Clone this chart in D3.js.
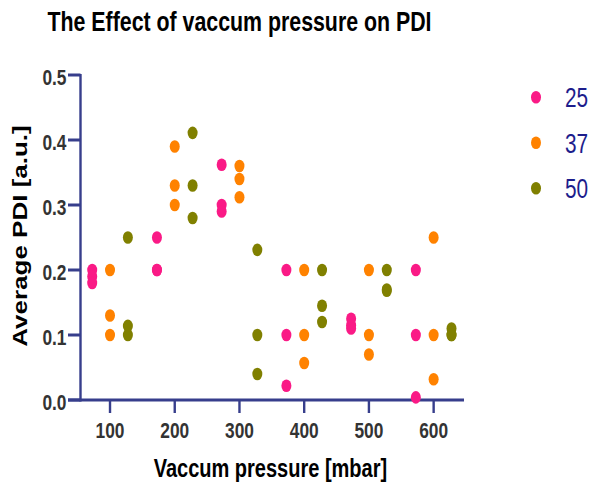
<!DOCTYPE html>
<html>
<head>
<meta charset="utf-8">
<script src="https://cdn.jsdelivr.net/npm/d3@7"></script>
<style>
  html, body { margin: 0; padding: 0; background: #fff; }
  text { font-family: "Liberation Sans", Arial, sans-serif; }
</style>
</head>
<body>
<svg id="chart" width="591" height="486"></svg>
<script>
// ---- data ----
const categories = [100, 200, 300, 400, 500, 600];
const seriesNames = ["25", "37", "50"];
const seriesColors = ["#fa1a86", "#ff8200", "#808000"];
const pdi25 = [[0.20, 0.19, 0.18], [0.25, 0.20, 0.20], [0.362, 0.30, 0.29], [0.20, 0.10, 0.022], [0.125, 0.115, 0.11], [0.20, 0.10, 0.004]];
const pdi37 = [[0.20, 0.13, 0.10], [0.39, 0.33, 0.30], [0.36, 0.34, 0.312], [0.20, 0.10, 0.057], [0.20, 0.10, 0.07], [0.25, 0.10, 0.032]];
const pdi50 = [[0.25, 0.114, 0.10], [0.411, 0.33, 0.28], [0.231, 0.10, 0.04], [0.20, 0.145, 0.12], [0.20, 0.17, 0.168], [0.11, 0.10, 0.10]];
const xTicks = [100, 200, 300, 400, 500, 600];
const yTicks = [0.0, 0.1, 0.2, 0.3, 0.4, 0.5];
const titleText = "The Effect of vaccum pressure on PDI";
const xTitle = "Vaccum pressure [mbar]";
const yTitle = "Average PDI [a.u.]";

// ---- layout ----
const SX = 0.77;            // horizontal squash of the original picture
const axisColor = "#373e8c";
const svg = d3.select("#chart");
const x = d3.scaleLinear().domain([54.4, 646.9]).range([80.5, 464]);
const y = d3.scaleLinear().domain([0, 0.5]).range([400, 75]);
const dodge = [-27.5, 0, 27.6];
const allSeries = [pdi25, pdi37, pdi50];

// axes
const xAxis = svg.append("g").attr("transform", "translate(0,400)");
xAxis.append("line").attr("x1", 68).attr("x2", x.range()[1]).attr("y1", 0).attr("y2", 0)
  .attr("stroke", axisColor).attr("stroke-width", 3);
xTicks.forEach(t => {
  xAxis.append("line").attr("x1", x(t)).attr("x2", x(t)).attr("y1", 0).attr("y2", 13)
    .attr("stroke", axisColor).attr("stroke-width", 2.4);
  xAxis.append("text").attr("transform", `translate(${x(t)},38) scale(${SX},1)`)
    .attr("text-anchor", "middle").attr("font-size", 22.5).attr("font-weight", "bold")
    .attr("fill", "#333").text(t);
});

const yAxis = svg.append("g");
yAxis.append("line").attr("x1", 80.5).attr("x2", 80.5).attr("y1", y(0.5) - 1).attr("y2", y(0) + 1.5)
  .attr("stroke", axisColor).attr("stroke-width", 2.4);
yTicks.forEach(t => {
  yAxis.append("line").attr("x1", 68).attr("x2", 80.5).attr("y1", y(t)).attr("y2", y(t))
    .attr("stroke", axisColor).attr("stroke-width", 3);
  yAxis.append("text").attr("transform", `translate(66.5,${y(t) + 9.5}) scale(${SX},1)`)
    .attr("text-anchor", "end").attr("font-size", 22.5).attr("font-weight", "bold")
    .attr("fill", "#333").text(d3.format(".1f")(t));
});

// points
allSeries.forEach((ser, si) => {
  const pts = [];
  ser.forEach((vals, ci) => vals.forEach(v => pts.push({ cx: categories[ci] + dodge[si], v })));
  svg.append("g").selectAll("ellipse").data(pts).join("ellipse")
    .attr("cx", d => x(d.cx)).attr("cy", d => y(d.v))
    .attr("rx", 5).attr("ry", 6.3).attr("fill", seriesColors[si]);
});

// legend
seriesNames.forEach((n, i) => {
  const cy = 97.3 + i * 45.5;
  svg.append("ellipse").attr("cx", 536).attr("cy", cy).attr("rx", 5).attr("ry", 6.3)
    .attr("fill", seriesColors[i]);
  svg.append("text").attr("transform", `translate(565,${cy + 10}) scale(${SX},1)`)
    .attr("font-size", 27).attr("fill", "#1d1d8c").text(n);
});

// titles
svg.append("text").attr("transform", `translate(239.5,30.5) scale(${SX},1)`)
  .attr("text-anchor", "middle").attr("font-size", 27.7).attr("font-weight", "bold")
  .attr("fill", "#000").text(titleText);
svg.append("text").attr("transform", `translate(270.4,477) scale(${SX},1)`)
  .attr("text-anchor", "middle").attr("font-size", 26).attr("font-weight", "bold")
  .attr("fill", "#000").text(xTitle);
svg.append("text").attr("transform", `translate(27,236) scale(${SX},1) rotate(-90)`)
  .attr("text-anchor", "middle").attr("font-size", 26).attr("font-weight", "bold")
  .attr("fill", "#000").text(yTitle);
</script>
</body>
</html>
